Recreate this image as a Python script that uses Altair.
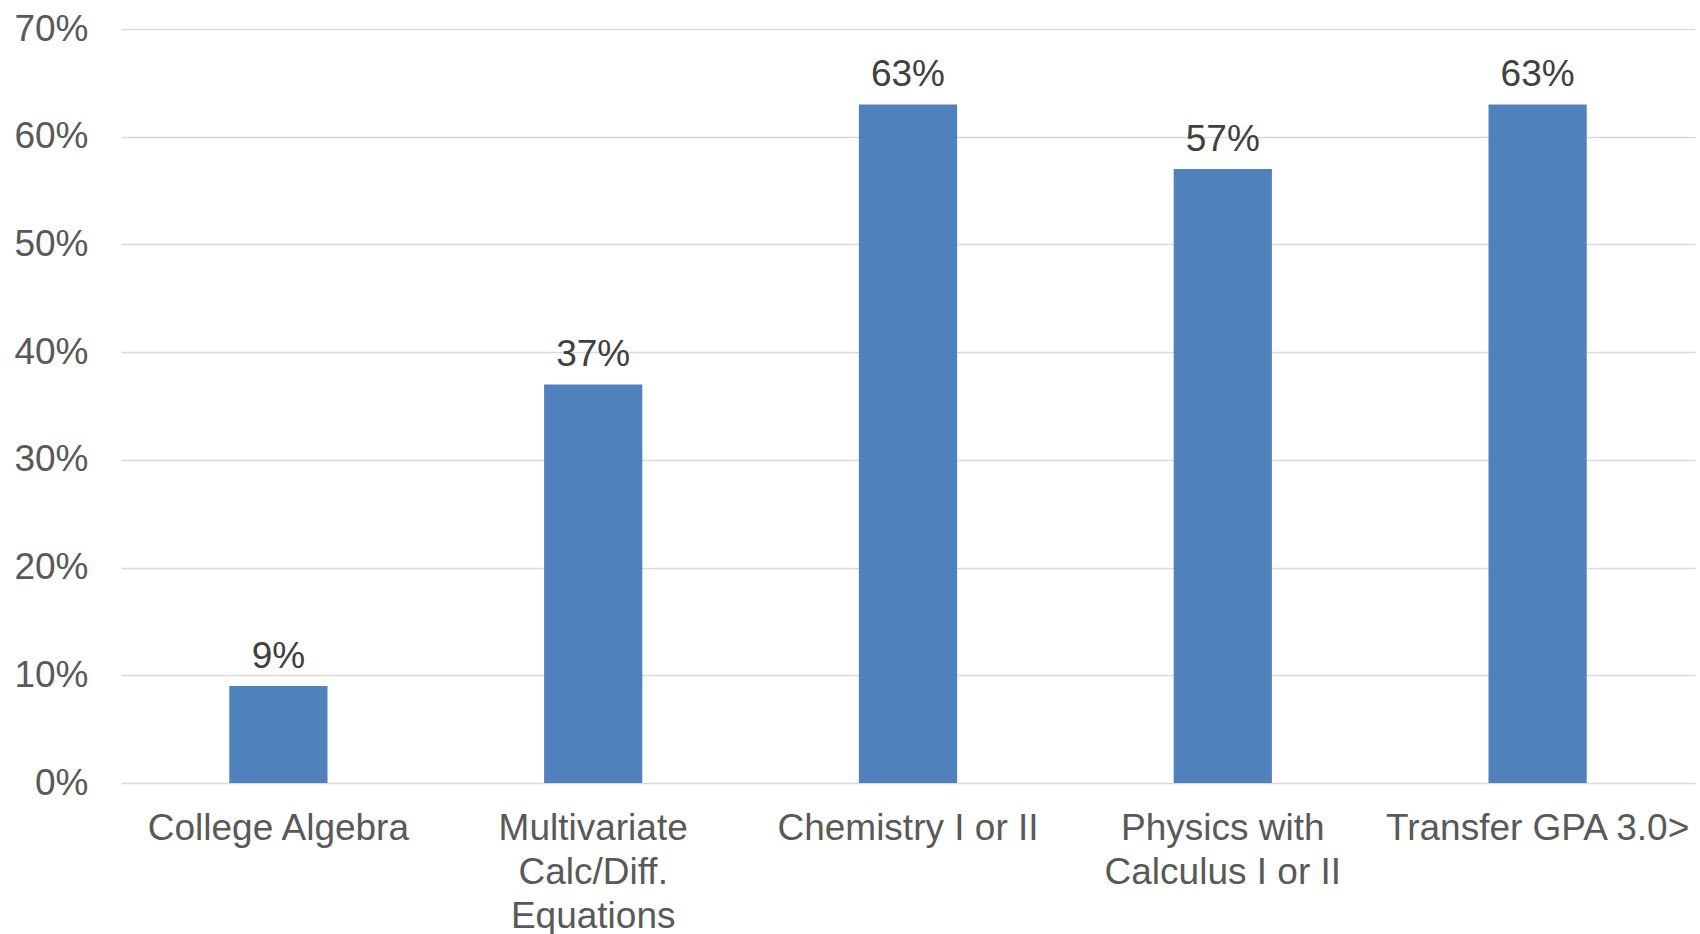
import altair as alt
import pandas as pd

# Share of students meeting each criterion
categories = [
    "College Algebra",
    "Multivariate|Calc/Diff.|Equations",
    "Chemistry I or II",
    "Physics with|Calculus I or II",
    "Transfer GPA 3.0>",
]
shares = [0.09, 0.37, 0.63, 0.57, 0.63]
y_ticks = [0, 0.1, 0.2, 0.3, 0.4, 0.5, 0.6, 0.7]

df = pd.DataFrame({"category": categories, "share": shares})

FONT = "Liberation Sans, Arial, Helvetica, sans-serif"

x_enc = alt.X(
    "category:N",
    sort=categories,
    title=None,
    scale=alt.Scale(paddingInner=0.688, paddingOuter=0.344),
    axis=alt.Axis(
        labelAngle=0,
        labelExpr="split(datum.label, '|')",
        labelFont=FONT,
        labelFontSize=37,
        labelColor="#595959",
        labelLineHeight=44,
        labelPadding=27,
        labelBaseline="top",
        labelLimit=0,
        labelOverlap=False,
        labelBound=False,
        labelFlush=False,
        domain=False,
        ticks=False,
        grid=False,
    ),
)

y_enc = alt.Y(
    "share:Q",
    title=None,
    scale=alt.Scale(domain=[0, 0.7], nice=False),
    axis=alt.Axis(
        values=y_ticks,
        format=".0%",
        labelFont=FONT,
        labelFontSize=37,
        labelColor="#595959",
        labelPadding=33,
        domain=False,
        ticks=False,
        grid=True,
        gridColor="#d9d9d9",
        gridWidth=1.4,
    ),
)

bars = alt.Chart(df).mark_bar(color="#4f81bd").encode(x=x_enc, y=y_enc)

labels = alt.Chart(df).mark_text(
    baseline="alphabetic",
    dy=-18,
    font=FONT,
    fontSize=37,
    color="#404040",
).encode(
    x=alt.X("category:N", sort=categories),
    y=alt.Y("share:Q"),
    text=alt.Text("share:Q", format=".0%"),
)

chart = (
    alt.layer(bars, labels)
    .properties(
        width=1574,
        height=754,
        autosize=alt.AutoSizeParams(type="none"),
        padding={"left": 121, "top": 29, "right": 5, "bottom": 151},
        background="white",
    )
    .configure_view(stroke=None)
)

chart.save("out.html", embed_options={"renderer": "svg", "actions": False})
